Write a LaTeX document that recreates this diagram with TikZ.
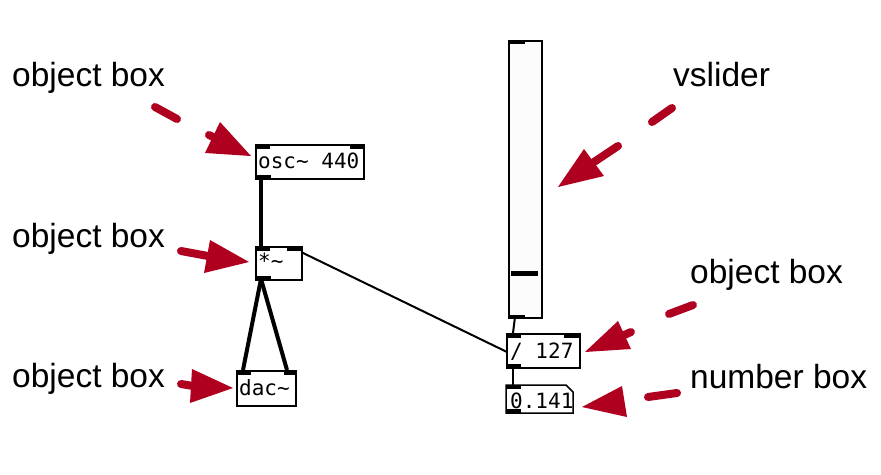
\documentclass[tikz,border=0pt]{standalone}
\usepackage{fontspec}
\setmainfont{Liberation Sans}
\newfontfamily\pdmono{DejaVu Sans Mono}
\usetikzlibrary{calc}
\definecolor{annred}{HTML}{AF0020}
\tikzset{
  pdbox/.style={draw=black, line width=1.5pt, fill=white, inner sep=0pt, anchor=north west},
  pdtext/.style={font=\pdmono\fontsize{21}{21}\selectfont, inner sep=0pt, anchor=base west},
  lbl/.style={font=\fontsize{33.5}{33.5}\selectfont, inner sep=0pt, anchor=base west},
  iolet/.style={fill=black},
  sig/.style={line width=4pt},
  ctl/.style={line width=2pt},
  dashseg/.style={annred, line width=8pt, line cap=round},
  head/.style={fill=annred},
}
\begin{document}
\begin{tikzpicture}[x=1pt,y=-1pt]
\useasboundingbox (0,0) rectangle (881,474);
\fill[white] (0,0) rectangle (881,474);

% connections (drawn first)
\coordinate (oscout) at (261,178);
\coordinate (mulin) at (261,246);
\coordinate (mulout) at (261,279);
\coordinate (dacinL) at (243,370);
\coordinate (dacinR) at (287,370);
\coordinate (mulR) at (301,252);
\coordinate (divL) at (507,352);
\coordinate (sliout) at (515,317);
\coordinate (divin) at (513,333);
\coordinate (divout) at (513,367);
\coordinate (numin) at (513,385);
\draw[sig] (oscout) -- (mulin);
\draw[sig] (mulout) -- (dacinL);
\draw[sig] (mulout) -- (dacinR);
\draw[ctl] (mulR) -- (divL);
\draw[ctl] (sliout) -- (divin);
\draw[ctl] (divout) -- (numin);

% osc~ 440
\node[pdbox, minimum width=108pt, minimum height=34pt] (osc) at (255,144) {};
\fill[iolet] (osc.north west) rectangle ++(15,5);
\fill[iolet] (osc.north east) rectangle ++(-15,5);
\fill[iolet] (osc.south west) rectangle ++(16,-5);
\node[pdtext] (osct) at (258,168) {osc\textasciitilde{} 440};

% *~
\node[pdbox, minimum width=46pt, minimum height=33pt] (mul) at (255,246) {};
\fill[iolet] (mul.north west) rectangle ++(15,5);
\fill[iolet] (mul.north east) rectangle ++(-16,5);
\fill[iolet] (mul.south west) rectangle ++(16,-5);
\node[pdtext] (mult) at (258,268) {*\textasciitilde};

% dac~
\node[pdbox, minimum width=59pt, minimum height=35pt] (dac) at (236,370) {};
\fill[iolet] (dac.north west) rectangle ++(15,5);
\fill[iolet] (dac.north east) rectangle ++(-13,5);
\node[pdtext] (dact) at (239,395) {dac\textasciitilde};

% vslider
\node[pdbox, fill={rgb,255:red,252;green,252;blue,252}, minimum width=33pt, minimum height=277pt] (sli) at (508,40) {};
\fill[iolet] (sli.north west) rectangle ++(17,4);
\fill[iolet] (sli.south west) rectangle ++(17,-4);
\fill[iolet] (511,270.5) rectangle (538,276);

% / 127
\node[pdbox, minimum width=73pt, minimum height=34pt] (div) at (506,333) {};
\fill[iolet] (div.north west) rectangle ++(15,5);
\fill[iolet] (div.north east) rectangle ++(-17,5);
\fill[iolet] (div.south west) rectangle ++(15,-5);
\node[pdtext] (divt) at (510,358) {/ 127};

% number box
\draw[line width=1.5pt, fill=white] (506,385) -- (566,385) -- (573,392) -- (573,413) -- (506,413) -- cycle;
\coordinate (num) at (506,385);
\fill[iolet] (506,385) rectangle ++(15,4);
\fill[iolet] (506,413) rectangle ++(15,-4);
\node[pdtext] (numt) at (510,408) {0.141};

% labels
\node[lbl] (l1) at (12,86) {object box};
\node[lbl] (l2) at (12,247) {object box};
\node[lbl] (l3) at (12,387) {object box};
\node[lbl] (l4) at (673,86) {vslider};
\node[lbl] (l5) at (690,283) {object box};
\node[lbl] (l6) at (690,388) {number box};

% annotation arrows
% 1
\draw[dashseg] (155,107) -- (177,119);
\draw[dashseg] (209,135) -- (213,137);
\fill[head] (251,156) -- (220,122) -- (205,153) -- cycle;
% 2
\draw[dashseg] (181,251) -- (208,256);
\fill[head] (249,262) -- (210,240) -- (204,273) -- cycle;
% 3
\draw[dashseg] (181,384) -- (193,386);
\fill[head] (233,388) -- (192,369) -- (190,403) -- cycle;
% 4
\draw[dashseg] (672,108) -- (652,122);
\draw[dashseg] (618,146) -- (594,162);
\fill[head] (558,187) -- (584,149) -- (604,176) -- cycle;
% 5
\draw[dashseg] (693,305) -- (669,314);
\draw[dashseg] (631,332) -- (622,336);
\fill[head] (585,352) -- (618,321) -- (631,349) -- cycle;
% 6
\draw[dashseg] (677,393) -- (648,397);
\fill[head] (582,407) -- (622,386) -- (627,417) -- cycle;
\end{tikzpicture}
\end{document}
